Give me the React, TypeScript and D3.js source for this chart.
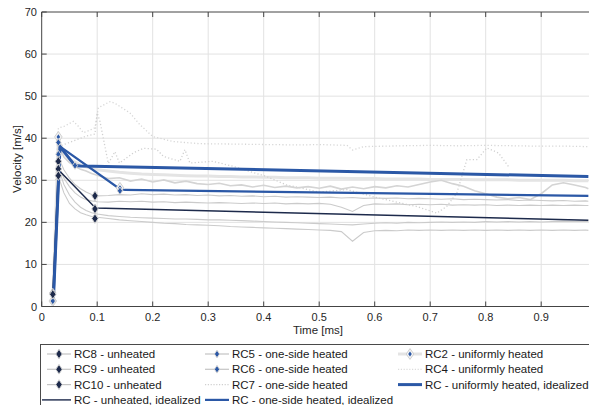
import React from "react";
import * as d3 from "d3";

// ---- data ----
const T = [0.02,0.025,0.03,0.035,0.04,0.05,0.06,0.07,0.08,0.09,0.10,
0.12,0.14,0.16,0.18,0.20,0.22,0.24,0.26,0.28,0.30,
0.32,0.34,0.36,0.38,0.40,0.42,0.44,0.46,0.48,0.50,
0.52,0.54,0.56,0.58,0.60,0.62,0.64,0.66,0.68,0.70,
0.72,0.74,0.76,0.78,0.80,0.82,0.84,0.86,0.88,0.90,
0.92,0.94,0.96,0.98,0.985];

const RC2 = [1.2,20,40,38,36.5,35,34.3,33.6,33.2,32.8,32.5,
32.2,31.9,31.7,31.5,31.4,31.3,31.2,31.1,31.0,31.0,
30.9,30.9,30.8,30.8,30.7,30.7,30.6,30.6,30.6,30.5,
30.5,30.5,30.4,30.4,30.4,30.3,30.3,30.3,30.3,30.2,
30.2,30.2,30.2,30.1,30.1,30.1,30.1,30.0,30.0,30.0,
30.0,30.0,29.9,29.9,29.9];

const RC6 = [2,18,38,37,35.5,34.2,33.3,32.6,32.2,31.6,31.2,
30.4,30.6,29.8,30.3,29.6,30.1,29.4,29.8,29.2,29.0,
29.3,28.7,28.9,28.4,28.8,28.3,28.6,28.2,28.5,28.1,
28.6,27.9,28.4,28.0,28.5,28.2,28.7,28.4,29.0,29.6,
30.0,29.2,28.6,27.5,26.8,26.0,25.6,25.9,25.4,26.8,
28.9,29.4,28.9,28.3,28.0];

const RC5 = [2.5,18,36,34,32.5,30.5,29,28,27.2,26.6,26.3,
26.4,26.6,26.5,26.8,26.6,26.7,26.5,26.6,26.4,26.5,
26.3,26.4,26.2,26.3,26.1,26.2,26.0,26.1,26.0,25.9,
26.0,25.8,25.9,25.7,25.8,25.7,25.8,25.6,25.7,25.6,
25.5,25.6,25.4,25.5,25.4,25.3,25.4,25.2,25.3,25.2,
25.1,25.2,25.0,25.1,25.0];

const RC8 = [3,16,34,32,30.5,28.5,27,26,25.4,25.1,24.9,
24.8,25.0,24.9,25.0,24.8,24.9,24.7,24.8,24.7,24.6,
24.7,24.6,24.5,24.6,24.5,24.6,24.4,24.5,24.4,24.5,
24.3,23.6,22.6,24.0,24.4,24.3,24.4,24.2,24.3,24.2,
24.3,24.1,24.2,24.1,24.2,24.0,24.1,24.0,24.1,24.0,
24.1,24.0,24.1,24.0,24.0];

const RC9 = [3,15,33,31,29,26.5,24.8,23.6,22.8,22.3,22.0,
21.6,21.4,21.2,21.1,21.0,20.9,20.8,20.8,20.7,20.6,
20.6,20.5,20.4,20.3,20.2,20.1,20.0,19.9,19.8,19.7,
19.6,19.5,19.4,19.6,19.8,19.9,19.8,20.0,19.9,20.0,
20.1,20.0,20.1,20.0,20.2,20.1,20.2,20.1,20.2,20.1,
20.2,20.3,20.2,20.3,20.2];

const RC10 = [3,14,31,29,27,24.5,23.2,22.3,21.8,21.4,21.2,
20.9,20.6,20.4,20.2,20.0,19.8,19.7,19.5,19.4,19.3,
19.2,19.0,18.9,18.8,18.7,18.6,18.5,18.4,18.3,18.2,
18.1,17.8,15.5,17.6,18.0,18.1,18.0,18.2,18.1,18.2,
18.1,18.2,18.1,18.2,18.1,18.2,18.1,18.2,18.1,18.2,
18.1,18.2,18.1,18.2,18.1];

const RC4_T = [0.025,0.03,0.04,0.05,0.057,0.065,0.075,0.085,0.096,0.102,0.11,0.123,0.132,0.145,0.159,0.177,0.2,0.237,0.285,0.35,0.4,0.465,0.5,0.55,0.56,0.58,0.65,0.7,0.75,0.8,0.85,0.9,0.95,0.985];
const RC4_V = [30,42.4,42.8,43.5,44,43,41.3,41.8,42.5,47.2,47.8,48.7,48.3,47.2,46,43.2,40.4,39.2,38.7,38.6,38.5,38.4,38.5,38.3,37.2,38.0,38.2,38.3,38.2,38.3,38.2,38.1,38.1,38.0];

const RC7_T = [0.03,0.04,0.06,0.08,0.096,0.1,0.105,0.12,0.132,0.14,0.165,0.183,0.207,0.219,0.249,0.258,0.267,0.309,0.345,0.405,0.441,0.5,0.55,0.6,0.65,0.675,0.712,0.73,0.748,0.766,0.784,0.802,0.823,0.841];
const RC7_V = [38,38.5,39.5,40.5,41,46,44,34,36.8,34.1,36.5,37.6,37.4,35.7,34.5,37.3,34.1,34.5,33.3,30.9,28.9,27.2,27.8,26,24.5,23.8,22.2,23.8,27,34.9,34.9,37.7,36.5,33.3];

const IDEAL_UNHEATED_T = [0.02,0.03,0.097,0.985];
const IDEAL_UNHEATED_V = [3,32.5,23.4,20.5];
const IDEAL_ONESIDE_T = [0.021,0.033,0.14,0.15,0.985];
const IDEAL_ONESIDE_V = [1.3,38,28,27.7,26.3];
const IDEAL_UNIFORM_T = [0.021,0.033,0.06,0.07,0.985];
const IDEAL_UNIFORM_V = [1.3,38,33.5,33.4,30.9];

const MK_UNHEATED_T = [0.02,0.02,0.03,0.03,0.03,0.096,0.096,0.096];
const MK_UNHEATED_V = [3.2,2.9,34.5,32.7,31.1,26.3,23.2,20.9];
const MK_ONESIDE_T = [0.02,0.03,0.03,0.06,0.141];
const MK_ONESIDE_V = [1.3,36.2,39,33.5,27.5];
const MK_UNIFORM_T = [0.02,0.03,0.141];
const MK_UNIFORM_V = [1.3,40.3,28.2];

const X_TICKS = [0,0.1,0.2,0.3,0.4,0.5,0.6,0.7,0.8,0.9];
const Y_TICKS = [0,10,20,30,40,50,60,70];

const LEGEND_ROWS = [
  ["RC8 - unheated","RC5 - one-side heated","RC2 - uniformly heated"],
  ["RC9 - unheated","RC6 - one-side heated","RC4 - uniformly heated"],
  ["RC10 - unheated","RC7 - one-side heated","RC - uniformly heated, idealized"],
  ["RC - unheated, idealized","RC - one-side heated, idealized",""],
];
const LEGEND_KIND = [
  ["un","one","uni"],
  ["un","one","dot2"],
  ["un","dot1","iduni"],
  ["idun","idone",""],
];

// ---- styling ----
const NAVY = "#1d2a4b";
const BLUE = "#2b58a6";
const GRAY = "#cbcbcb";
const LIGHT = "#e4e4e4";
const FONT = "'Liberation Sans', Arial, Helvetica, sans-serif";

const x = d3.scaleLinear().domain([0, 1]).range([41.7, 596.7]);
const y = d3.scaleLinear().domain([0, 70]).range([306.5, 12]);

const line = d3.line<[number, number]>().x(d => x(d[0])).y(d => y(d[1]));
const zip = (ts: number[], vs: number[]) => ts.map((t, i) => [t, vs[i]] as [number, number]);

function diamond(cx: number, cy: number, w: number, h: number) {
  return `M${cx},${cy - h}L${cx + w},${cy}L${cx},${cy + h}L${cx - w},${cy}Z`;
}

function Marker({ kind, cx, cy }: { kind: string; cx: number; cy: number }) {
  if (kind === "un")
    return <path d={diamond(cx, cy, 3.2, 4.8)} fill={NAVY} stroke="#d2d2d2" strokeWidth={1} />;
  if (kind === "one")
    return <path d={diamond(cx, cy, 2.6, 3.8)} fill={BLUE} stroke="#d6d6d6" strokeWidth={1} />;
  return (
    <g>
      <path d={diamond(cx, cy, 3.8, 5.4)} fill="#f4f4f4" stroke="#cfcfcf" strokeWidth={1} />
      <path d={diamond(cx, cy, 1.8, 2.6)} fill={BLUE} />
    </g>
  );
}

export default function App() {
  const x0 = 41.7, xr = 589, y0 = 306.5, yt = 12;
  const measured = [RC5, RC8, RC9, RC10];
  const colX = [47, 205, 398];
  const rowY = [354, 369.3, 384.6, 399.9];
  return (
    <svg width={589} height={405} style={{ position: "absolute", left: 0, top: 0, background: "#fff" }}
      fontFamily={FONT}>
      <rect width={589} height={405} fill="#fff" />
      <defs>
        <clipPath id="plot"><rect x={x0} y={yt} width={xr - x0} height={y0 - yt} /></clipPath>
      </defs>
      {/* grid */}
      {X_TICKS.slice(1).map(t => (
        <line key={"gx" + t} x1={x(t)} x2={x(t)} y1={yt} y2={y0} stroke="#e2e2e2" strokeWidth={1} />
      ))}
      {Y_TICKS.slice(1, -1).map(v => (
        <line key={"gy" + v} x1={x0} x2={xr} y1={y(v)} y2={y(v)} stroke="#e2e2e2" strokeWidth={1} />
      ))}
      <g clipPath="url(#plot)" fill="none">
        <path d={line(zip(T, RC2))!} stroke={LIGHT} strokeWidth={3} />
        <path d={line(zip(RC4_T, RC4_V))!} stroke="#d6d6d6" strokeWidth={1.3} strokeDasharray="1.2,2.2" />
        <path d={line(zip(RC7_T, RC7_V))!} stroke="#d0d0d0" strokeWidth={1.3} strokeDasharray="1.2,2.2" />
        <path d={line(zip(T, RC6))!} stroke="#d4d4d4" strokeWidth={1.6} />
        {measured.map((s, i) => (
          <path key={i} d={line(zip(T, s))!} stroke={GRAY} strokeWidth={1.1} />
        ))}
        <path d={line(zip(IDEAL_UNHEATED_T, IDEAL_UNHEATED_V))!} stroke={NAVY} strokeWidth={1.4} />
        <path d={line(zip(IDEAL_ONESIDE_T, IDEAL_ONESIDE_V))!} stroke={BLUE} strokeWidth={2.2} />
        <path d={line(zip(IDEAL_UNIFORM_T, IDEAL_UNIFORM_V))!} stroke={BLUE} strokeWidth={3} />
        {MK_UNIFORM_T.map((t, i) => <Marker key={"mu" + i} kind="uni" cx={x(t)} cy={y(MK_UNIFORM_V[i])} />)}
        {MK_ONESIDE_T.map((t, i) => <Marker key={"mo" + i} kind="one" cx={x(t)} cy={y(MK_ONESIDE_V[i])} />)}
        {MK_UNHEATED_T.map((t, i) => <Marker key={"mn" + i} kind="un" cx={x(t)} cy={y(MK_UNHEATED_V[i])} />)}
      </g>
      {/* axes */}
      <line x1={x0} x2={x0} y1={yt} y2={y0} stroke="#444" strokeWidth={1} />
      <line x1={x0} x2={xr} y1={y0} y2={y0} stroke="#444" strokeWidth={1} />
      <line x1={x0} x2={xr} y1={yt} y2={yt} stroke="#444" strokeWidth={1} />
      {X_TICKS.map(t => (
        <g key={"xt" + t}>
          <line x1={x(t)} x2={x(t)} y1={y0} y2={y0 - 5} stroke="#444" />
          <line x1={x(t)} x2={x(t)} y1={yt} y2={yt + 5} stroke="#444" />
          <text x={x(t)} y={321} textAnchor="middle" fontSize={11} fill="#262626">{String(t)}</text>
        </g>
      ))}
      {Y_TICKS.map(v => (
        <g key={"yt" + v}>
          <line x1={x0} x2={x0 + 5} y1={y(v)} y2={y(v)} stroke="#444" />
          <text x={37} y={y(v) + 4} textAnchor="end" fontSize={11} fill="#262626">{String(v)}</text>
        </g>
      ))}
      <text x={318} y={334} textAnchor="middle" fontSize={11.5} fill="#262626">Time [ms]</text>
      <text transform="translate(21,159) rotate(-90)" textAnchor="middle" fontSize={11.5} fill="#262626">Velocity [m/s]</text>
      {/* legend */}
      <rect x={40.5} y={344.5} width={600} height={100} fill="#fff" stroke="#4a4a4a" strokeWidth={1} />
      {LEGEND_ROWS.map((row, r) => row.map((label, c) => {
        if (!label) return null;
        const kind = LEGEND_KIND[r][c];
        const lx = colX[c];
        const cy = rowY[r];
        let sym: React.ReactNode = null;
        if (kind === "un" || kind === "one")
          sym = <g><line x1={lx} x2={lx + 24} y1={cy} y2={cy} stroke="#c4c4c4" strokeWidth={1.2} /><Marker kind={kind} cx={lx + 12} cy={cy} /></g>;
        else if (kind === "uni")
          sym = <g><line x1={lx} x2={lx + 24} y1={cy} y2={cy} stroke={LIGHT} strokeWidth={3} /><Marker kind="uni" cx={lx + 12} cy={cy} /></g>;
        else if (kind === "dot1")
          sym = <line x1={lx} x2={lx + 24} y1={cy} y2={cy} stroke="#cfcfcf" strokeWidth={1.2} strokeDasharray="1.2,1.6" />;
        else if (kind === "dot2")
          sym = <line x1={lx} x2={lx + 24} y1={cy} y2={cy} stroke="#dcdcdc" strokeWidth={1.2} strokeDasharray="1.2,1.6" />;
        else if (kind === "iduni")
          sym = <line x1={lx} x2={lx + 24} y1={cy} y2={cy} stroke={BLUE} strokeWidth={3} />;
        else if (kind === "idun")
          sym = <line x1={lx - 5} x2={lx + 24} y1={cy} y2={cy} stroke={NAVY} strokeWidth={1.4} />;
        else if (kind === "idone")
          sym = <line x1={lx} x2={lx + 24} y1={cy} y2={cy} stroke={BLUE} strokeWidth={2.2} />;
        return (
          <g key={r + "-" + c}>
            {sym}
            <text x={lx + 27} y={cy + 4} fontSize={11.5} fill="#1a1a1a">{label}</text>
          </g>
        );
      }))}
    </svg>
  );
}
